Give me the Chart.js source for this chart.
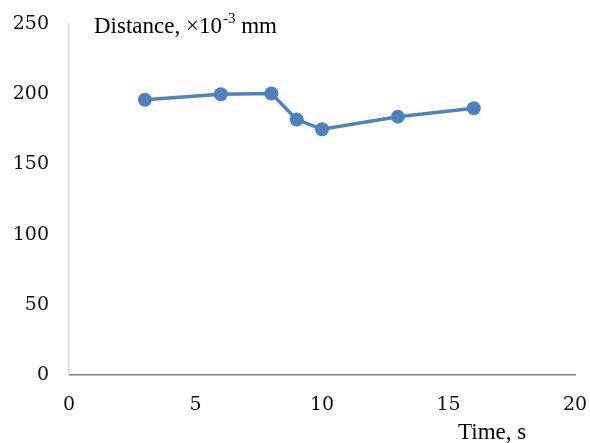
<!DOCTYPE html>
<html><head><meta charset="utf-8">
<script src="https://cdn.jsdelivr.net/npm/chart.js@4/dist/chart.umd.min.js"></script>
<style>html,body{margin:0;padding:0;background:#fff}#wrap{width:590px;height:443px}</style>
</head><body><div id="wrap"><canvas id="c" width="590" height="443"></canvas></div>
<script>
const timeValues = [3, 6, 8, 9, 10, 13, 16];
const distanceValues = [196, 200, 200.5, 182, 175, 184, 190];
const xTicks = [0, 5, 10, 15, 20];
const yTicks = [0, 50, 100, 150, 200, 250];
const yTitle = ["Distance, ×10", "-3", " mm"];
const xTitle = "Time, s";

const FONT = "'Liberation Serif', 'Times New Roman', serif";
const TICKFONT = "'DejaVu Serif', serif";

const textPlugin = {
  id: 'texts',
  afterDraw(chart) {
    const ctx = chart.ctx;
    ctx.save();
    ctx.fillStyle = '#000';
    ctx.textBaseline = 'alphabetic';
    ctx.textAlign = 'left';
    let x = 94, y = 33;
    ctx.font = '23px ' + FONT;
    ctx.fillText(yTitle[0], x, y);
    x += ctx.measureText(yTitle[0]).width;
    ctx.font = '15px ' + FONT;
    ctx.fillText(yTitle[1], x + 1, y - 10);
    x += ctx.measureText(yTitle[1]).width + 1;
    ctx.font = '23px ' + FONT;
    ctx.fillText(yTitle[2], x, y);
    ctx.fillText(xTitle, 458, 439);
    ctx.restore();
  }
};

new Chart(document.getElementById('c'), {
  type: 'line',
  data: {
    datasets: [{
      data: timeValues.map((t, i) => ({x: t, y: distanceValues[i]})),
      borderColor: '#4f81bd',
      backgroundColor: '#4f81bd',
      borderWidth: 3.5,
      pointRadius: 7,
      pointHoverRadius: 7,
      pointBorderWidth: 0,
      tension: 0
    }]
  },
  options: {
    responsive: false,
    animation: false,
    devicePixelRatio: 1,
    layout: {padding: {left: 0, right: 15, top: 24, bottom: 0}},
    plugins: {legend: {display: false}, tooltip: {enabled: false}},
    scales: {
      x: {
        type: 'linear', min: 0, max: 20,
        afterBuildTicks: s => { s.ticks = xTicks.map(v => ({value: v})); },
        afterFit: s => { s.height = 68; s.paddingLeft = 0; s.paddingRight = 0; },
        grid: {display: false, drawTicks: false},
        border: {display: true, color: '#7f7f7f', width: 1.5},
        ticks: {padding: 19, color: '#111', font: {family: TICKFONT, size: 19}, maxRotation: 0}
      },
      y: {
        type: 'linear', min: 0, max: 250,
        afterBuildTicks: s => { s.ticks = yTicks.map(v => ({value: v})); },
        afterFit: s => { s.width = 69; s.paddingTop = 0; s.paddingBottom = 0; },
        grid: {display: false, drawTicks: false},
        border: {display: true, color: '#d9d9d9', width: 1.5},
        ticks: {padding: 20, color: '#111', font: {family: TICKFONT, size: 19}}
      }
    }
  },
  plugins: [textPlugin]
});
</script>
</body></html>
